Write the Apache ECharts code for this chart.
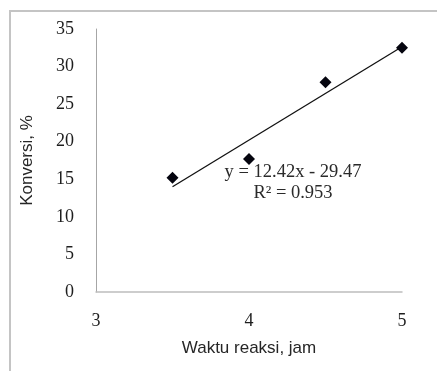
<!DOCTYPE html>
<html>
<head>
<meta charset="utf-8">
<script src="https://cdn.jsdelivr.net/npm/echarts@6/dist/echarts.min.js"></script>
<style>
html,body{margin:0;padding:0;background:#fff;}
#c{width:437px;height:371px;}
</style>
</head>
<body>
<div id="c"></div>
<script>
// Data
var waktu = [3.5, 4, 4.5, 5];
var konversi = [15.2, 17.7, 27.9, 32.5];
var trendSlope = 12.42;
var trendIntercept = -29.47;
var trendRange = [3.5, 5];
var equationText = 'y = 12.42x - 29.47';
var r2Text = 'R\u00B2 = 0.953';
var xTitle = 'Waktu reaksi, jam';
var yTitle = 'Konversi, %';

var points = waktu.map(function (x, i) { return [x, konversi[i]]; });
var trend = trendRange.map(function (x) { return [x, trendSlope * x + trendIntercept]; });

var chart = echarts.init(document.getElementById('c'), null, {renderer: 'canvas'});
chart.setOption({
  animation: false,
  backgroundColor: '#fff',
  grid: {left: 96, right: 35, top: 29, bottom: 79, containLabel: false},
  xAxis: {
    type: 'value', min: 3, max: 5, interval: 1,
    name: xTitle, nameLocation: 'middle', nameGap: 48,
    nameTextStyle: {fontFamily: 'Liberation Sans', fontSize: 17, color: '#262626'},
    axisLine: {show: true, lineStyle: {color: '#bdbdbd', width: 1.5}},
    axisTick: {show: false},
    splitLine: {show: false},
    axisLabel: {fontFamily: 'Liberation Serif', fontSize: 18, color: '#1e1e1e', margin: 20}
  },
  yAxis: {
    type: 'value', min: 0, max: 35, interval: 5,
    name: yTitle, nameLocation: 'middle', nameGap: 60,
    nameTextStyle: {fontFamily: 'Liberation Sans', fontSize: 17, color: '#262626'},
    axisLine: {show: true, lineStyle: {color: '#a6a6a6', width: 1}},
    axisTick: {show: false},
    splitLine: {show: false},
    axisLabel: {fontFamily: 'Liberation Serif', fontSize: 18, color: '#1e1e1e', margin: 22}
  },
  series: [
    {
      type: 'line', data: trend, symbol: 'none',
      lineStyle: {color: '#111', width: 1.3}, z: 2
    },
    {
      type: 'scatter', data: points, symbol: 'diamond', symbolSize: 12,
      itemStyle: {color: '#05050f', opacity: 1}, z: 3
    }
  ],
  graphic: [
    {type: 'rect', shape: {x: 10, y: 11, width: 500, height: 500},
     style: {fill: 'none', stroke: '#c4c4c4', lineWidth: 2}, silent: true},
    {type: 'text', x: 293, y: 172,
     style: {text: equationText, font: '18.5px "Liberation Serif"', fill: '#2a2a2a', align: 'center', verticalAlign: 'middle'}},
    {type: 'text', x: 293, y: 193,
     style: {text: r2Text, font: '18.5px "Liberation Serif"', fill: '#2a2a2a', align: 'center', verticalAlign: 'middle'}}
  ]
});
</script>
</body>
</html>
